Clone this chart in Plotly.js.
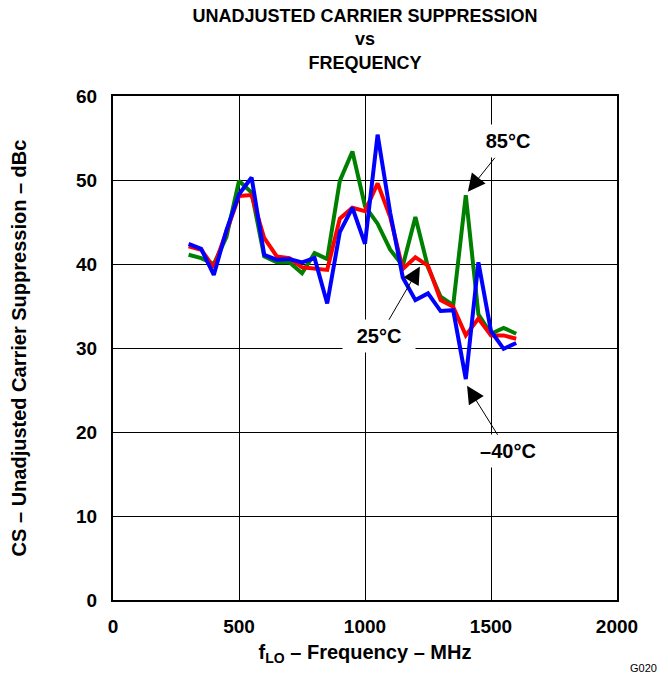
<!DOCTYPE html>
<html>
<head>
<meta charset="utf-8">
<script src="https://cdn.plot.ly/plotly-3.0.1.min.js"></script>
<style>html,body{margin:0;padding:0;background:#fff;}#chart{width:668px;height:673px;}</style>
</head>
<body>
<div id="chart"></div>
<script>
// Frequency (MHz)
const freq = [300,350,400,450,500,550,600,650,700,750,800,850,900,950,1000,1050,1100,1150,1200,1250,1300,1350,1400,1450,1500,1550,1600];
// 85 °C
const cs85 = [41.1,40.7,40.0,43.2,49.9,48.5,40.9,40.2,40.2,38.9,41.3,40.6,49.9,53.4,46.9,44.8,41.7,39.8,45.6,39.6,36.1,35.1,48.2,34.0,31.7,32.4,31.7];
// 25 °C
const cs25 = [42.1,41.7,39.6,44.0,48.1,48.2,43.1,40.9,40.7,39.6,39.4,39.3,45.4,46.7,46.3,49.6,45.6,39.4,40.8,39.8,35.7,34.9,31.5,33.5,31.5,31.5,31.1];
// -40 °C
const csm40 = [42.4,41.8,38.7,44.0,48.3,50.3,41.1,40.5,40.6,40.2,40.7,35.3,43.8,46.7,42.4,55.4,46.1,38.4,35.7,36.5,34.4,34.5,26.3,40.2,32.0,29.9,30.6];

const xTicks = [0,500,1000,1500,2000];
const yTicks = [0,10,20,30,40,50,60];

const FONT = 'Liberation Sans, Arial, Helvetica, sans-serif';

const traces = [
  {x: freq, y: cs85, mode: 'lines', line: {color: '#008000', width: 4}, name: '85°C'},
  {x: freq, y: cs25, mode: 'lines', line: {color: '#ff0000', width: 4}, name: '25°C'},
  {x: freq, y: csm40, mode: 'lines', line: {color: '#0000ff', width: 4}, name: '–40°C'}
];

const annoStyle = {
  xref: 'x', yref: 'y', axref: 'x', ayref: 'y',
  showarrow: true, arrowhead: 2, arrowsize: 3.5, arrowwidth: 1, arrowcolor: '#000',
  standoff: 0, bgcolor: '#ffffff', borderpad: 5, width: 62,
  font: {family: FONT, size: 20, color: '#000', weight: 'bold'}
};

const layout = {
  width: 668, height: 673,
  margin: {l: 113, r: 51, t: 96, b: 73},
  paper_bgcolor: '#fff', plot_bgcolor: '#fff',
  showlegend: false,
  font: {family: FONT, color: '#000'},
  title: {
    text: '<b>UNADJUSTED CARRIER SUPPRESSION<br>vs<br>FREQUENCY</b>',
    font: {family: FONT, size: 18, color: '#000'},
    x: 0.5, xanchor: 'center', xref: 'paper',
    y: 1, yanchor: 'bottom', yref: 'paper',
    pad: {b: 74}
  },
  xaxis: {
    range: [0, 2000], tickvals: xTicks, ticktext: xTicks.map(String),
    showgrid: true, gridcolor: '#000', gridwidth: 1,
    showline: true, linecolor: '#000', linewidth: 2, mirror: true,
    zeroline: false, ticks: '', ticklabelstandoff: 8,
    tickfont: {family: FONT, size: 19, color: '#000', weight: 'bold'},
    title: {text: '<b>f<sub>LO</sub> – Frequency – MHz</b>', font: {family: FONT, size: 20, color: '#000'}, standoff: 9}
  },
  yaxis: {
    range: [0, 60], tickvals: yTicks, ticktext: yTicks.map(String),
    showgrid: true, gridcolor: '#000', gridwidth: 1,
    showline: true, linecolor: '#000', linewidth: 2, mirror: true,
    zeroline: false, ticks: '', ticklabelstandoff: 10,
    tickfont: {family: FONT, size: 19, color: '#000', weight: 'bold'},
    title: {text: '<b>CS – Unadjusted Carrier Suppression – dBc</b>', font: {family: FONT, size: 20, color: '#000'}, standoff: 44}
  },
  annotations: [
    Object.assign({}, annoStyle, {text: '85°C', x: 1408, y: 48.6, ax: 1567, ay: 54.6}),
    Object.assign({}, annoStyle, {text: '25°C', x: 1218, y: 39.7, ax: 1057, ay: 31.4}),
    Object.assign({}, annoStyle, {text: '–40°C', x: 1405, y: 25.5, ax: 1567, ay: 17.7}),
    {text: 'G020', xref: 'paper', yref: 'paper', x: (643-113)/504, y: -(668-600)/504, xanchor: 'center', yanchor: 'middle',
     showarrow: false, font: {family: FONT, size: 11, color: '#000'}}
  ]
};

Plotly.newPlot('chart', traces, layout, {displayModeBar: false, staticPlot: true});
</script>
</body>
</html>
